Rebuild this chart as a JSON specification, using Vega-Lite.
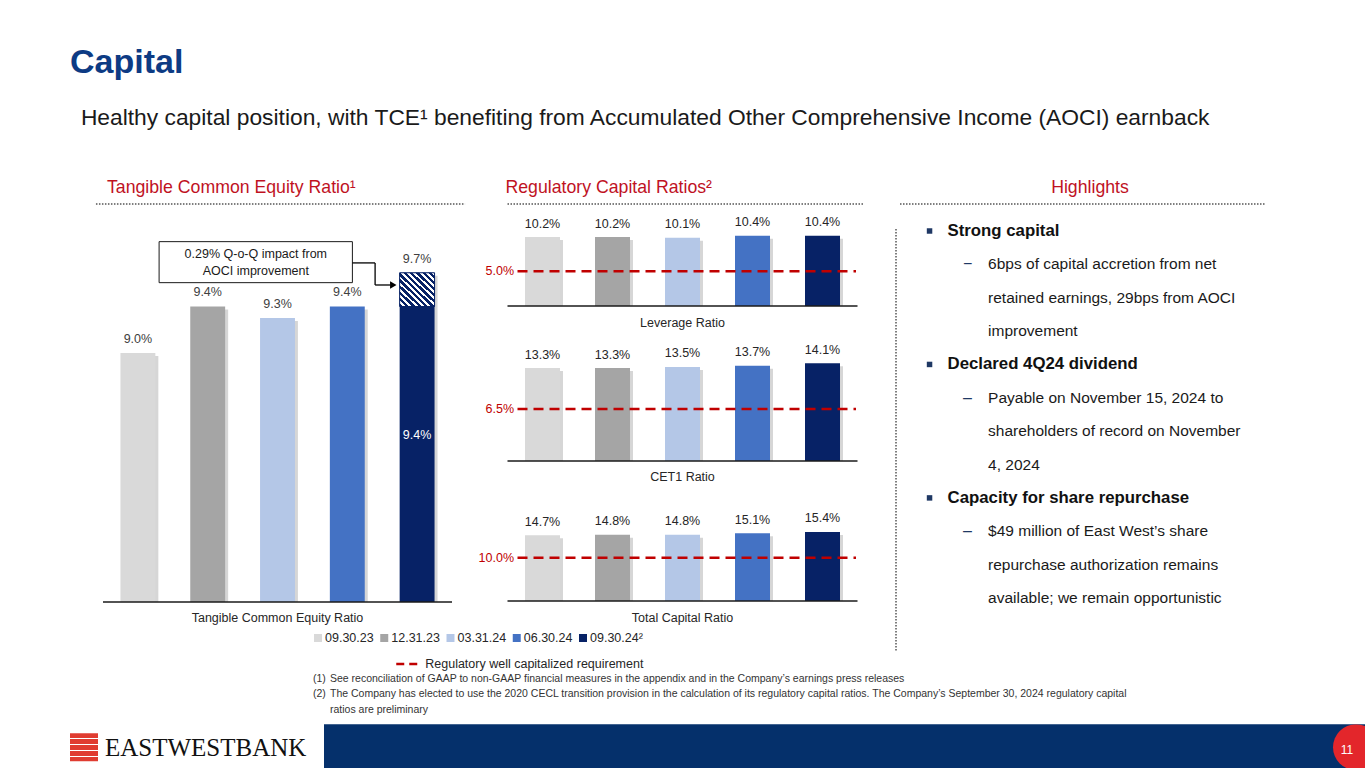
{
  "$schema": "https://vega.github.io/schema/vega-lite/v6.json",
  "padding": {"left": 70, "top": 45, "right": 0, "bottom": 0},
  "background": "white",
  "title": {
    "text": "Capital",
    "subtitle": "\u200b\u00a0\u2009Healthy capital position, with TCE¹ benefiting from Accumulated Other Comprehensive Income (AOCI) earnback",
    "anchor": "start",
    "frame": "bounds",
    "offset": 50,
    "font": "Liberation Sans",
    "fontSize": 34,
    "fontWeight": "bold",
    "color": "#0D3B84",
    "subtitleFont": "Liberation Sans",
    "subtitleFontSize": 22.8,
    "subtitleColor": "#1a1a1a",
    "subtitlePadding": 27
  },
  "config": {
    "view": {"stroke": null},
    "font": "Liberation Sans",
    "text": {"font": "Liberation Sans"}
  },
  "datasets": {
    "one": [{}],
    "tce": [
      {"period": "09.30.23", "tce": 0.090},
      {"period": "12.31.23", "tce": 0.094},
      {"period": "03.31.24", "tce": 0.093},
      {"period": "06.30.24", "tce": 0.094},
      {"period": "09.30.24", "tce": 0.0969, "tce_ex_aoci": 0.094, "aoci_impact": 0.0029}
    ],
    "reg": [
      {"ratio": "Leverage Ratio", "period": "09.30.23", "value": 0.102},
      {"ratio": "Leverage Ratio", "period": "12.31.23", "value": 0.102},
      {"ratio": "Leverage Ratio", "period": "03.31.24", "value": 0.101},
      {"ratio": "Leverage Ratio", "period": "06.30.24", "value": 0.104},
      {"ratio": "Leverage Ratio", "period": "09.30.24", "value": 0.104},
      {"ratio": "CET1 Ratio", "period": "09.30.23", "value": 0.133},
      {"ratio": "CET1 Ratio", "period": "12.31.23", "value": 0.133},
      {"ratio": "CET1 Ratio", "period": "03.31.24", "value": 0.135},
      {"ratio": "CET1 Ratio", "period": "06.30.24", "value": 0.137},
      {"ratio": "CET1 Ratio", "period": "09.30.24", "value": 0.141},
      {"ratio": "Total Capital Ratio", "period": "09.30.23", "value": 0.147},
      {"ratio": "Total Capital Ratio", "period": "12.31.23", "value": 0.148},
      {"ratio": "Total Capital Ratio", "period": "03.31.24", "value": 0.148},
      {"ratio": "Total Capital Ratio", "period": "06.30.24", "value": 0.151},
      {"ratio": "Total Capital Ratio", "period": "09.30.24", "value": 0.154}
    ],
    "req": [
      {"ratio": "Leverage Ratio", "req": 0.05},
      {"ratio": "CET1 Ratio", "req": 0.065},
      {"ratio": "Total Capital Ratio", "req": 0.10}
    ],
    "highlights": [
      {"line": 1, "level": 1, "marker": "", "text": "Strong capital"},
      {"line": 2, "level": 2, "marker": "−", "text": "6bps of capital accretion from net"},
      {"line": 3, "level": 2, "marker": "", "text": "retained earnings, 29bps from AOCI"},
      {"line": 4, "level": 2, "marker": "", "text": "improvement"},
      {"line": 5, "level": 1, "marker": "", "text": "Declared 4Q24 dividend"},
      {"line": 6, "level": 2, "marker": "–", "text": "Payable on November 15, 2024 to"},
      {"line": 7, "level": 2, "marker": "", "text": "shareholders of record on November"},
      {"line": 8, "level": 2, "marker": "", "text": "4, 2024"},
      {"line": 9, "level": 1, "marker": "", "text": "Capacity for share repurchase"},
      {"line": 10, "level": 2, "marker": "–", "text": "$49 million of East West’s share"},
      {"line": 11, "level": 2, "marker": "", "text": "repurchase authorization remains"},
      {"line": 12, "level": 2, "marker": "", "text": "available; we remain opportunistic"}
    ],
    "legend": [
      {"period": "09.30.23", "label": "09.30.23"},
      {"period": "12.31.23", "label": "12.31.23"},
      {"period": "03.31.24", "label": "03.31.24"},
      {"period": "06.30.24", "label": "06.30.24"},
      {"period": "09.30.24", "label": "09.30.24²"}
    ],
    "notes": [
      {"line": 1, "num": "(1)", "text": "See reconciliation of GAAP to non-GAAP financial measures in the appendix and in the Company’s earnings press releases"},
      {"line": 2, "num": "(2)", "text": "The Company has elected to use the 2020 CECL transition provision in the calculation of its regulatory capital ratios. The Company’s September 30, 2024 regulatory capital"},
      {"line": 3, "num": "", "text": "ratios are preliminary"}
    ]
  },
  "spacing": 2.5,
  "vconcat": [
    {
      "spacing": 29,
      "hconcat": [
        {
          "spacing": 7,
          "vconcat": [
            {
              "spacing": 11.5,
              "hconcat": [
                {
                  "width": 382,
                  "height": 398,
                  "title": {"text": "Tangible Common Equity Ratio¹", "anchor": "start", "frame": "group", "dx": 37, "offset": -8, "font": "Liberation Sans", "fontSize": 17.7, "fontWeight": "normal", "color": "#C0121F", "baseline": "alphabetic"},
                  "layer": [
                    {
                      "data": {"name": "one"},
                      "mark": {"type": "rule", "color": "#7f7f7f", "strokeWidth": 2, "strokeDash": [1.5, 1.5], "xOffset": -24.5, "x2Offset": 30.5},
                      "encoding": {
                        "x": {"datum": "09.30.23", "bandPosition": 0, "axis": null},
                        "x2": {"datum": "09.30.24", "bandPosition": 1},
                        "y": {"datum": 0.10282, "type": "quantitative", "axis": null}
                      }
                    },
                    {
                      "data": {"name": "tce"},
                      "mark": {"type": "bar", "color": "#000000", "opacity": 0.16, "xOffset": 3, "yOffset": 3},
                      "encoding": {
                        "x": {"field": "period", "type": "nominal", "axis": null},
                        "y": {"field": "tce", "type": "quantitative", "axis": null},
                        "y2": {"datum": 0.06857}
                      }
                    },
                    {
                      "data": {"name": "tce"},
                      "mark": {"type": "bar"},
                      "encoding": {
                        "x": {
                          "field": "period", "type": "nominal",
                          "scale": {"domain": ["09.30.23", "12.31.23", "03.31.24", "06.30.24", "09.30.24"], "range": [33, 382], "paddingInner": 0.5, "paddingOuter": 0.25},
                          "axis": null
                        },
                        "y": {"field": "tce", "type": "quantitative", "scale": {"domain": [0.06857, 0.10282], "zero": false, "nice": false}, "axis": null},
                        "y2": {"datum": 0.06857},
                        "color": {
                          "field": "period", "type": "nominal",
                          "scale": {"domain": ["09.30.23", "12.31.23", "03.31.24", "06.30.24", "09.30.24"], "range": ["#D9D9D9", "#A5A5A5", "#B4C7E7", "#4472C4", "#072266"]},
                          "legend": null
                        }
                      }
                    },
                    {
                      "data": {"name": "tce"},
                      "transform": [{"filter": "isValid(datum.tce_ex_aoci)"}],
                      "mark": {
                        "type": "bar",
                        "stroke": "#072266",
                        "strokeWidth": 1,
                        "fill": {
                          "gradient": "linear", "x1": 0, "y1": 1, "x2": 1, "y2": 0,
                          "stops": [
                            {"offset": 0, "color": "#072266"}, {"offset": 0.05, "color": "#072266"}, {"offset": 0.05, "color": "#ffffff"}, {"offset": 0.0909, "color": "#ffffff"},
                            {"offset": 0.0909, "color": "#072266"}, {"offset": 0.1409, "color": "#072266"}, {"offset": 0.1409, "color": "#ffffff"}, {"offset": 0.1818, "color": "#ffffff"},
                            {"offset": 0.1818, "color": "#072266"}, {"offset": 0.2318, "color": "#072266"}, {"offset": 0.2318, "color": "#ffffff"}, {"offset": 0.2727, "color": "#ffffff"},
                            {"offset": 0.2727, "color": "#072266"}, {"offset": 0.3227, "color": "#072266"}, {"offset": 0.3227, "color": "#ffffff"}, {"offset": 0.3636, "color": "#ffffff"},
                            {"offset": 0.3636, "color": "#072266"}, {"offset": 0.4136, "color": "#072266"}, {"offset": 0.4136, "color": "#ffffff"}, {"offset": 0.4545, "color": "#ffffff"},
                            {"offset": 0.4545, "color": "#072266"}, {"offset": 0.5045, "color": "#072266"}, {"offset": 0.5045, "color": "#ffffff"}, {"offset": 0.5455, "color": "#ffffff"},
                            {"offset": 0.5455, "color": "#072266"}, {"offset": 0.5955, "color": "#072266"}, {"offset": 0.5955, "color": "#ffffff"}, {"offset": 0.6364, "color": "#ffffff"},
                            {"offset": 0.6364, "color": "#072266"}, {"offset": 0.6864, "color": "#072266"}, {"offset": 0.6864, "color": "#ffffff"}, {"offset": 0.7273, "color": "#ffffff"},
                            {"offset": 0.7273, "color": "#072266"}, {"offset": 0.7773, "color": "#072266"}, {"offset": 0.7773, "color": "#ffffff"}, {"offset": 0.8182, "color": "#ffffff"},
                            {"offset": 0.8182, "color": "#072266"}, {"offset": 0.8682, "color": "#072266"}, {"offset": 0.8682, "color": "#ffffff"}, {"offset": 0.9091, "color": "#ffffff"},
                            {"offset": 0.9091, "color": "#072266"}, {"offset": 0.9591, "color": "#072266"}, {"offset": 0.9591, "color": "#ffffff"}, {"offset": 1, "color": "#ffffff"}
                          ]
                        }
                      },
                      "encoding": {
                        "x": {"field": "period", "type": "nominal", "axis": null},
                        "y": {"field": "tce", "type": "quantitative", "axis": null},
                        "y2": {"field": "tce_ex_aoci"}
                      }
                    },
                    {
                      "data": {"name": "one"},
                      "mark": {"type": "rule", "color": "#1a1a1a", "strokeWidth": 1.5, "xOffset": -17.45, "x2Offset": 17.45},
                      "encoding": {
                        "x": {"datum": "09.30.23", "bandPosition": 0, "axis": null},
                        "x2": {"datum": "09.30.24", "bandPosition": 1},
                        "y": {"datum": 0.06857, "type": "quantitative", "axis": null}
                      }
                    },
                    {
                      "data": {"name": "one"},
                      "mark": {"type": "text", "text": "Tangible Common Equity Ratio", "align": "center", "baseline": "middle", "dy": 16, "fontSize": 12.5, "color": "#262626"},
                      "encoding": {
                        "x": {"datum": "03.31.24", "bandPosition": 0.5, "axis": null},
                        "y": {"datum": 0.06857, "type": "quantitative", "axis": null}
                      }
                    },
                    {
                      "data": {"name": "tce"},
                      "mark": {"type": "text", "baseline": "middle", "dy": -14, "fontSize": 12.5, "color": "#404040"},
                      "encoding": {
                        "x": {"field": "period", "type": "nominal", "axis": null},
                        "y": {"field": "tce", "type": "quantitative", "axis": null},
                        "text": {"field": "tce", "type": "quantitative", "format": ".1%"}
                      }
                    },
                    {
                      "data": {"name": "tce"},
                      "transform": [{"filter": "isValid(datum.tce_ex_aoci)"}],
                      "mark": {"type": "text", "baseline": "middle", "dy": 129, "fontSize": 12.5, "color": "#ffffff"},
                      "encoding": {
                        "x": {"field": "period", "type": "nominal", "axis": null},
                        "y": {"field": "tce_ex_aoci", "type": "quantitative", "axis": null},
                        "text": {"field": "tce_ex_aoci", "type": "quantitative", "format": ".1%"}
                      }
                    },
                    {
                      "data": {"name": "one"},
                      "mark": {"type": "rect", "fill": "#ffffff", "stroke": "#1a1a1a", "strokeWidth": 1, "xOffset": 21.2, "x2Offset": 5.1},
                      "encoding": {
                        "x": {"datum": "09.30.23", "bandPosition": 0.5, "axis": null},
                        "x2": {"datum": "06.30.24", "bandPosition": 0.5},
                        "y": {"datum": 0.09958, "type": "quantitative", "axis": null},
                        "y2": {"datum": 0.09605}
                      }
                    },
                    {
                      "data": {"name": "one"},
                      "mark": {"type": "text", "text": "0.29% Q-o-Q impact from\nAOCI improvement", "lineBreak": "\n", "lineHeight": 17, "align": "center", "baseline": "middle", "fontSize": 12.5, "color": "#1a1a1a", "dx": -21.7, "dy": -8.5},
                      "encoding": {
                        "x": {"datum": "03.31.24", "bandPosition": 0.5, "axis": null},
                        "y": {"datum": 0.09779, "type": "quantitative", "axis": null}
                      }
                    },
                    {
                      "data": {"name": "one"},
                      "mark": {"type": "rule", "color": "#000000", "strokeWidth": 1.3, "xOffset": 5.1, "x2Offset": 27.8},
                      "encoding": {
                        "x": {"datum": "06.30.24", "bandPosition": 0.5, "axis": null},
                        "x2": {"datum": "06.30.24", "bandPosition": 0.5},
                        "y": {"datum": 0.09775, "type": "quantitative", "axis": null}
                      }
                    },
                    {
                      "data": {"name": "one"},
                      "mark": {"type": "rule", "color": "#000000", "strokeWidth": 1.3, "xOffset": 27.8},
                      "encoding": {
                        "x": {"datum": "06.30.24", "bandPosition": 0.5, "axis": null},
                        "y": {"datum": 0.09775, "type": "quantitative", "axis": null},
                        "y2": {"datum": 0.09585}
                      }
                    },
                    {
                      "data": {"name": "one"},
                      "mark": {"type": "rule", "color": "#000000", "strokeWidth": 1.3, "xOffset": 27.8, "x2Offset": 43},
                      "encoding": {
                        "x": {"datum": "06.30.24", "bandPosition": 0.5, "axis": null},
                        "x2": {"datum": "06.30.24", "bandPosition": 0.5},
                        "y": {"datum": 0.09585, "type": "quantitative", "axis": null}
                      }
                    },
                    {
                      "data": {"name": "one"},
                      "mark": {"type": "point", "shape": "triangle-right", "filled": true, "color": "#000000", "opacity": 1, "size": 55, "xOffset": 46},
                      "encoding": {
                        "x": {"datum": "06.30.24", "bandPosition": 0.5, "axis": null},
                        "y": {"datum": 0.09585, "type": "quantitative", "axis": null}
                      }
                    }
                  ]
                },
                {
                  "bounds": "flush",
                  "spacing": 35,
                  "vconcat": [
                    {
                      "width": 350,
                      "height": 102,
                      "title": {"text": "Regulatory Capital Ratios²", "anchor": "start", "frame": "group", "dx": -2, "offset": -8, "font": "Liberation Sans", "fontSize": 17.7, "fontWeight": "normal", "color": "#C0121F", "baseline": "alphabetic"},
                      "layer": [
                        {
                          "data": {"name": "one"},
                          "mark": {"type": "rule", "color": "#7f7f7f", "strokeWidth": 2, "strokeDash": [1.5, 1.5], "xOffset": -17.5, "x2Offset": 24.5},
                          "encoding": {
                            "x": {"datum": "09.30.23", "bandPosition": 0, "axis": null},
                            "x2": {"datum": "09.30.24", "bandPosition": 1},
                            "y": {"datum": 0.1524, "type": "quantitative", "axis": null}
                          }
                        },
                        {
                          "data": {"name": "reg"},
                          "transform": [{"filter": "datum.ratio === 'Leverage Ratio'"}],
                          "mark": {"type": "bar", "color": "#000000", "opacity": 0.16, "xOffset": 3, "yOffset": 3},
                          "encoding": {
                            "x": {"field": "period", "type": "nominal", "axis": null},
                            "y": {"field": "value", "type": "quantitative", "axis": null},
                            "y2": {"datum": -0.0031}
                          }
                        },
                        {
                          "data": {"name": "reg"},
                          "transform": [{"filter": "datum.ratio === 'Leverage Ratio'"}],
                          "mark": {"type": "bar"},
                          "encoding": {
                            "x": {
                              "field": "period", "type": "nominal",
                              "scale": {"domain": ["09.30.23", "12.31.23", "03.31.24", "06.30.24", "09.30.24"], "paddingInner": 0.5, "paddingOuter": 0.25},
                              "axis": null
                            },
                            "y": {"field": "value", "type": "quantitative", "scale": {"domain": [-0.0031, 0.1524], "zero": false, "nice": false}, "axis": null},
                            "y2": {"datum": -0.0031},
                            "color": {"field": "period", "type": "nominal", "legend": null}
                          }
                        },
                        {
                          "data": {"name": "one"},
                          "mark": {"type": "rule", "color": "#1a1a1a", "strokeWidth": 1.5, "xOffset": -17.5, "x2Offset": 17.5},
                          "encoding": {
                            "x": {"datum": "09.30.23", "bandPosition": 0, "axis": null},
                            "x2": {"datum": "09.30.24", "bandPosition": 1},
                            "y": {"datum": -0.0031, "type": "quantitative", "axis": null}
                          }
                        },
                        {
                          "data": {"name": "one"},
                          "mark": {"type": "text", "text": "Leverage Ratio", "align": "center", "baseline": "middle", "dy": 16.5, "fontSize": 12.5, "color": "#262626"},
                          "encoding": {
                            "x": {"datum": "03.31.24", "bandPosition": 0.5, "axis": null},
                            "y": {"datum": -0.0031, "type": "quantitative", "axis": null}
                          }
                        },
                        {
                          "data": {"name": "reg"},
                          "transform": [{"filter": "datum.ratio === 'Leverage Ratio'"}],
                          "mark": {"type": "text", "baseline": "middle", "dy": -13.5, "fontSize": 12.5, "color": "#262626"},
                          "encoding": {
                            "x": {"field": "period", "type": "nominal", "axis": null},
                            "y": {"field": "value", "type": "quantitative", "axis": null},
                            "text": {"field": "value", "type": "quantitative", "format": ".1%"}
                          }
                        },
                        {
                          "data": {"name": "req"},
                          "transform": [{"filter": "datum.ratio === 'Leverage Ratio'"}],
                          "mark": {"type": "rule", "color": "#C00000", "strokeWidth": 2.5, "strokeDash": [10, 6], "xOffset": -7.5, "x2Offset": 16},
                          "encoding": {
                            "x": {"datum": "09.30.23", "bandPosition": 0, "axis": null},
                            "x2": {"datum": "09.30.24", "bandPosition": 1},
                            "y": {"field": "req", "type": "quantitative", "axis": null}
                          }
                        },
                        {
                          "data": {"name": "req"},
                          "transform": [{"filter": "datum.ratio === 'Leverage Ratio'"}],
                          "mark": {"type": "text", "align": "right", "baseline": "middle", "dx": -11, "fontSize": 12.5, "color": "#C00000"},
                          "encoding": {
                            "x": {"datum": "09.30.23", "bandPosition": 0, "axis": null},
                            "y": {"field": "req", "type": "quantitative", "axis": null},
                            "text": {"field": "req", "type": "quantitative", "format": ".1%"}
                          }
                        }
                      ]
                    },
                    {
                      "width": 350,
                      "height": 120,
                      "layer": [
                        {
                          "data": {"name": "reg"},
                          "transform": [{"filter": "datum.ratio === 'CET1 Ratio'"}],
                          "mark": {"type": "bar", "color": "#000000", "opacity": 0.16, "xOffset": 3, "yOffset": 3},
                          "encoding": {
                            "x": {"field": "period", "type": "nominal", "axis": null},
                            "y": {"field": "value", "type": "quantitative", "axis": null},
                            "y2": {"datum": -0.0216}
                          }
                        },
                        {
                          "data": {"name": "reg"},
                          "transform": [{"filter": "datum.ratio === 'CET1 Ratio'"}],
                          "mark": {"type": "bar"},
                          "encoding": {
                            "x": {
                              "field": "period", "type": "nominal",
                              "scale": {"domain": ["09.30.23", "12.31.23", "03.31.24", "06.30.24", "09.30.24"], "paddingInner": 0.5, "paddingOuter": 0.25},
                              "axis": null
                            },
                            "y": {"field": "value", "type": "quantitative", "scale": {"domain": [-0.0216, 0.1781], "zero": false, "nice": false}, "axis": null},
                            "y2": {"datum": -0.0216},
                            "color": {"field": "period", "type": "nominal", "legend": null}
                          }
                        },
                        {
                          "data": {"name": "one"},
                          "mark": {"type": "rule", "color": "#1a1a1a", "strokeWidth": 1.5, "xOffset": -17.5, "x2Offset": 17.5},
                          "encoding": {
                            "x": {"datum": "09.30.23", "bandPosition": 0, "axis": null},
                            "x2": {"datum": "09.30.24", "bandPosition": 1},
                            "y": {"datum": -0.0216, "type": "quantitative", "axis": null}
                          }
                        },
                        {
                          "data": {"name": "one"},
                          "mark": {"type": "text", "text": "CET1 Ratio", "align": "center", "baseline": "middle", "dy": 15.5, "fontSize": 12.5, "color": "#262626"},
                          "encoding": {
                            "x": {"datum": "03.31.24", "bandPosition": 0.5, "axis": null},
                            "y": {"datum": -0.0216, "type": "quantitative", "axis": null}
                          }
                        },
                        {
                          "data": {"name": "reg"},
                          "transform": [{"filter": "datum.ratio === 'CET1 Ratio'"}],
                          "mark": {"type": "text", "baseline": "middle", "dy": -13.5, "fontSize": 12.5, "color": "#262626"},
                          "encoding": {
                            "x": {"field": "period", "type": "nominal", "axis": null},
                            "y": {"field": "value", "type": "quantitative", "axis": null},
                            "text": {"field": "value", "type": "quantitative", "format": ".1%"}
                          }
                        },
                        {
                          "data": {"name": "req"},
                          "transform": [{"filter": "datum.ratio === 'CET1 Ratio'"}],
                          "mark": {"type": "rule", "color": "#C00000", "strokeWidth": 2.5, "strokeDash": [10, 6], "xOffset": -7.5, "x2Offset": 16},
                          "encoding": {
                            "x": {"datum": "09.30.23", "bandPosition": 0, "axis": null},
                            "x2": {"datum": "09.30.24", "bandPosition": 1},
                            "y": {"field": "req", "type": "quantitative", "axis": null}
                          }
                        },
                        {
                          "data": {"name": "req"},
                          "transform": [{"filter": "datum.ratio === 'CET1 Ratio'"}],
                          "mark": {"type": "text", "align": "right", "baseline": "middle", "dx": -11, "fontSize": 12.5, "color": "#C00000"},
                          "encoding": {
                            "x": {"datum": "09.30.23", "bandPosition": 0, "axis": null},
                            "y": {"field": "req", "type": "quantitative", "axis": null},
                            "text": {"field": "req", "type": "quantitative", "format": ".1%"}
                          }
                        }
                      ]
                    },
                    {
                      "width": 350,
                      "height": 105,
                      "layer": [
                        {
                          "data": {"name": "reg"},
                          "transform": [{"filter": "datum.ratio === 'Total Capital Ratio'"}],
                          "mark": {"type": "bar", "color": "#000000", "opacity": 0.16, "xOffset": 3, "yOffset": 3},
                          "encoding": {
                            "x": {"field": "period", "type": "nominal", "axis": null},
                            "y": {"field": "value", "type": "quantitative", "axis": null},
                            "y2": {"datum": 0.0103}
                          }
                        },
                        {
                          "data": {"name": "reg"},
                          "transform": [{"filter": "datum.ratio === 'Total Capital Ratio'"}],
                          "mark": {"type": "bar"},
                          "encoding": {
                            "x": {
                              "field": "period", "type": "nominal",
                              "scale": {"domain": ["09.30.23", "12.31.23", "03.31.24", "06.30.24", "09.30.24"], "paddingInner": 0.5, "paddingOuter": 0.25},
                              "axis": null
                            },
                            "y": {"field": "value", "type": "quantitative", "scale": {"domain": [0.0103, 0.2286], "zero": false, "nice": false}, "axis": null},
                            "y2": {"datum": 0.0103},
                            "color": {"field": "period", "type": "nominal", "legend": null}
                          }
                        },
                        {
                          "data": {"name": "one"},
                          "mark": {"type": "rule", "color": "#1a1a1a", "strokeWidth": 1.5, "xOffset": -17.5, "x2Offset": 17.5},
                          "encoding": {
                            "x": {"datum": "09.30.23", "bandPosition": 0, "axis": null},
                            "x2": {"datum": "09.30.24", "bandPosition": 1},
                            "y": {"datum": 0.0103, "type": "quantitative", "axis": null}
                          }
                        },
                        {
                          "data": {"name": "one"},
                          "mark": {"type": "text", "text": "Total Capital Ratio", "align": "center", "baseline": "middle", "dy": 16.5, "fontSize": 12.5, "color": "#262626"},
                          "encoding": {
                            "x": {"datum": "03.31.24", "bandPosition": 0.5, "axis": null},
                            "y": {"datum": 0.0103, "type": "quantitative", "axis": null}
                          }
                        },
                        {
                          "data": {"name": "reg"},
                          "transform": [{"filter": "datum.ratio === 'Total Capital Ratio'"}],
                          "mark": {"type": "text", "baseline": "middle", "dy": -13.5, "fontSize": 12.5, "color": "#262626"},
                          "encoding": {
                            "x": {"field": "period", "type": "nominal", "axis": null},
                            "y": {"field": "value", "type": "quantitative", "axis": null},
                            "text": {"field": "value", "type": "quantitative", "format": ".1%"}
                          }
                        },
                        {
                          "data": {"name": "req"},
                          "transform": [{"filter": "datum.ratio === 'Total Capital Ratio'"}],
                          "mark": {"type": "rule", "color": "#C00000", "strokeWidth": 2.5, "strokeDash": [10, 6], "xOffset": -7.5, "x2Offset": 16},
                          "encoding": {
                            "x": {"datum": "09.30.23", "bandPosition": 0, "axis": null},
                            "x2": {"datum": "09.30.24", "bandPosition": 1},
                            "y": {"field": "req", "type": "quantitative", "axis": null}
                          }
                        },
                        {
                          "data": {"name": "req"},
                          "transform": [{"filter": "datum.ratio === 'Total Capital Ratio'"}],
                          "mark": {"type": "text", "align": "right", "baseline": "middle", "dx": -11, "fontSize": 12.5, "color": "#C00000"},
                          "encoding": {
                            "x": {"datum": "09.30.23", "bandPosition": 0, "axis": null},
                            "y": {"field": "req", "type": "quantitative", "axis": null},
                            "text": {"field": "req", "type": "quantitative", "format": ".1%"}
                          }
                        }
                      ]
                    }
                  ]
                }
              ]
            },
            {
              "width": 600,
              "height": 26,
              "layer": [
                {
                  "data": {"name": "legend"},
                  "mark": {"type": "point", "shape": "square", "filled": true, "size": 64, "opacity": 1},
                  "encoding": {
                    "x": {"field": "period", "type": "nominal", "scale": {"type": "point", "domain": ["09.30.23", "12.31.23", "03.31.24", "06.30.24", "09.30.24"], "range": [248, 513], "padding": 0}, "axis": null},
                    "y": {"datum": "colors", "scale": {"type": "point", "domain": ["colors", "req"], "padding": 0}, "axis": null},
                    "color": {"field": "period", "type": "nominal", "legend": null}
                  }
                },
                {
                  "data": {"name": "legend"},
                  "mark": {"type": "text", "align": "left", "baseline": "middle", "dx": 7, "fontSize": 12.5, "color": "#262626"},
                  "encoding": {
                    "x": {"field": "period", "type": "nominal", "axis": null},
                    "y": {"datum": "colors", "axis": null},
                    "text": {"field": "label"}
                  }
                },
                {
                  "data": {"name": "one"},
                  "mark": {"type": "rule", "color": "#C00000", "strokeWidth": 2.5, "strokeDash": [8, 5], "xOffset": 12, "x2Offset": 33},
                  "encoding": {
                    "x": {"datum": "12.31.23", "axis": null},
                    "x2": {"datum": "12.31.23"},
                    "y": {"datum": "req", "axis": null}
                  }
                },
                {
                  "data": {"name": "one"},
                  "mark": {"type": "text", "text": "Regulatory well capitalized requirement", "align": "left", "baseline": "middle", "dx": 41, "fontSize": 12.5, "color": "#262626"},
                  "encoding": {
                    "x": {"datum": "12.31.23", "axis": null},
                    "y": {"datum": "req", "axis": null}
                  }
                }
              ]
            }
          ]
        },
        {
          "width": 369,
          "height": 398,
          "title": {"text": "Highlights", "anchor": "middle", "frame": "group", "dx": 9.5, "offset": -8, "font": "Liberation Sans", "fontSize": 17.7, "fontWeight": "normal", "color": "#C0121F", "baseline": "alphabetic"},
          "layer": [
            {
              "data": {"name": "highlights"},
              "transform": [{"filter": "datum.level === 1"}],
              "mark": {"type": "point", "shape": "square", "filled": true, "size": 30, "color": "#1F3864", "opacity": 1},
              "encoding": {
                "x": {"field": "level", "type": "quantitative", "scale": {"domain": [0, 11], "nice": false, "zero": false}, "axis": null},
                "y": {"field": "line", "type": "quantitative", "scale": {"domain": [0.191, 12.12], "reverse": true, "nice": false, "zero": false}, "axis": null}
              }
            },
            {
              "data": {"name": "one"},
              "mark": {"type": "rule", "color": "#7f7f7f", "strokeWidth": 2, "strokeDash": [1.5, 1.5], "xOffset": 4},
              "encoding": {
                "x": {"datum": 0, "type": "quantitative", "axis": null},
                "x2": {"datum": 11},
                "y": {"datum": 0.191, "type": "quantitative", "axis": null}
              }
            },
            {
              "data": {"name": "one"},
              "mark": {"type": "rule", "color": "#7f7f7f", "strokeWidth": 2, "strokeDash": [1.5, 1.5]},
              "encoding": {
                "x": {"datum": 0, "type": "quantitative", "axis": null},
                "y": {"datum": 0.94, "type": "quantitative", "axis": null},
                "y2": {"datum": 13.59}
              }
            },
            {
              "data": {"name": "highlights"},
              "transform": [{"filter": "datum.level === 1"}],
              "mark": {"type": "text", "align": "left", "baseline": "middle", "dx": 18, "fontSize": 16.8, "fontWeight": "bold", "color": "#111111"},
              "encoding": {
                "x": {"field": "level", "type": "quantitative", "axis": null},
                "y": {"field": "line", "type": "quantitative", "axis": null},
                "text": {"field": "text"}
              }
            },
            {
              "data": {"name": "highlights"},
              "transform": [{"filter": "datum.level === 2"}],
              "mark": {"type": "text", "align": "left", "baseline": "middle", "dx": 0, "fontSize": 16, "color": "#1F3864"},
              "encoding": {
                "x": {"field": "level", "type": "quantitative", "axis": null},
                "y": {"field": "line", "type": "quantitative", "axis": null},
                "text": {"field": "marker"}
              }
            },
            {
              "data": {"name": "highlights"},
              "transform": [{"filter": "datum.level === 2"}],
              "mark": {"type": "text", "align": "left", "baseline": "middle", "dx": 25, "fontSize": 15.5, "color": "#1a1a1a"},
              "encoding": {
                "x": {"field": "level", "type": "quantitative", "axis": null},
                "y": {"field": "line", "type": "quantitative", "axis": null},
                "text": {"field": "text"}
              }
            }
          ]
        }
      ]
    },
    {
      "spacing": 8.75,
      "vconcat": [
        {
          "width": 1000,
          "height": 31,
          "data": {"name": "notes"},
          "layer": [
            {
              "mark": {"type": "text", "align": "left", "baseline": "middle", "fontSize": 10.5, "color": "#333333"},
              "encoding": {
                "x": {"datum": "num", "scale": {"type": "point", "domain": ["num", "text"], "range": [243, 260], "padding": 0}, "axis": null},
                "y": {"field": "line", "type": "ordinal", "scale": {"type": "point", "padding": 0}, "axis": null},
                "text": {"field": "num"}
              }
            },
            {
              "mark": {"type": "text", "align": "left", "baseline": "middle", "fontSize": 10.5, "color": "#333333"},
              "encoding": {
                "x": {"datum": "text", "axis": null},
                "y": {"field": "line", "type": "ordinal", "axis": null},
                "text": {"field": "text"}
              }
            }
          ]
        },
        {
          "bounds": "flush",
          "spacing": 0,
          "hconcat": [
            {
              "width": 254,
              "height": 46,
              "data": {"name": "one"},
              "layer": [
                {
                  "mark": {
                    "type": "point", "shape": "square", "filled": true, "size": 784, "opacity": 1, "xOffset": -113,
                    "fill": {
                      "gradient": "linear", "x1": 0, "y1": 0, "x2": 0, "y2": 1,
                      "stops": [
                        {"offset": 0, "color": "#E03C31"}, {"offset": 0.17, "color": "#E03C31"}, {"offset": 0.17, "color": "#ffffff"}, {"offset": 0.21, "color": "#ffffff"},
                        {"offset": 0.21, "color": "#E03C31"}, {"offset": 0.38, "color": "#E03C31"}, {"offset": 0.38, "color": "#ffffff"}, {"offset": 0.42, "color": "#ffffff"},
                        {"offset": 0.42, "color": "#E03C31"}, {"offset": 0.59, "color": "#E03C31"}, {"offset": 0.59, "color": "#ffffff"}, {"offset": 0.63, "color": "#ffffff"},
                        {"offset": 0.63, "color": "#E03C31"}, {"offset": 0.8, "color": "#E03C31"}, {"offset": 0.8, "color": "#ffffff"}, {"offset": 0.84, "color": "#ffffff"},
                        {"offset": 0.84, "color": "#E03C31"}, {"offset": 1, "color": "#E03C31"}
                      ]
                    }
                  },
                  "encoding": {}
                },
                {
                  "mark": {"type": "text", "text": "EASTWESTBANK", "font": "Liberation Serif", "fontSize": 25, "align": "left", "baseline": "middle", "dx": -92, "dy": 1, "color": "#111111"},
                  "encoding": {}
                }
              ]
            },
            {
              "width": 1041,
              "height": 46,
              "view": {"fill": "#05306B", "stroke": null},
              "data": {"name": "one"},
              "layer": [
                {
                  "mark": {"type": "point", "shape": "circle", "filled": true, "size": 2116, "color": "#E3262B", "opacity": 1, "xOffset": 511.5, "clip": true},
                  "encoding": {}
                },
                {
                  "mark": {"type": "text", "text": "11", "align": "center", "baseline": "middle", "dx": 502.5, "dy": 3, "fontSize": 12, "color": "#ffffff"},
                  "encoding": {}
                }
              ]
            }
          ]
        }
      ]
    }
  ]
}
